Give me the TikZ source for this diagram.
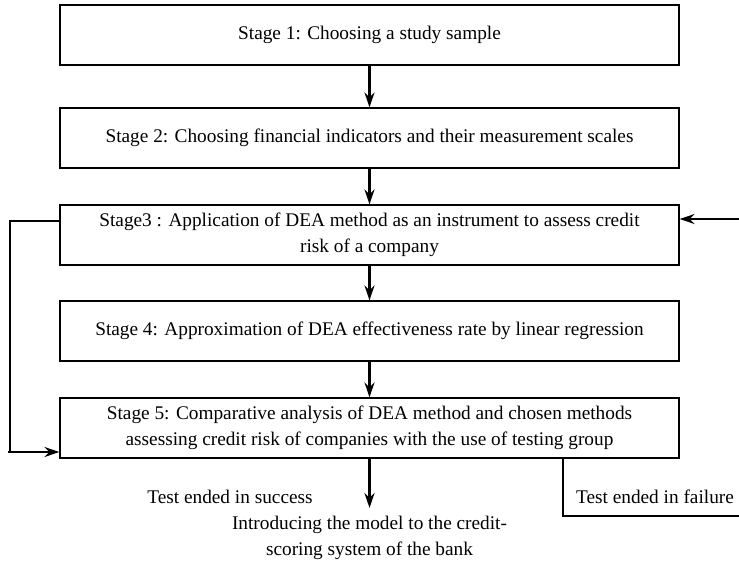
\documentclass[tikz,border=0pt]{standalone}
\usepackage{fontspec}
\setmainfont{Liberation Serif}
\usetikzlibrary{arrows.meta}
\begin{document}
\begin{tikzpicture}[x=1pt,y=-1pt,
  stagebox/.style={draw, line width=1.2pt, minimum width=619pt, minimum height=60pt, align=center, font=\fontsize{19.3}{26.5}\selectfont, inner sep=0pt},
  lbl/.style={font=\fontsize{19.3}{25.5}\selectfont, align=center, inner sep=0pt},
  arr/.style={line width=2.4pt, -{Stealth[length=15pt,width=10pt,inset=5pt]}},
  ln/.style={line width=1.2pt}]
\useasboundingbox (0,0) rectangle (739,562);
\node[stagebox] (s1) at (369.5,35) {Stage 1: Choosing a study sample};
\node[stagebox] (s2) at (369.5,138) {Stage 2: Choosing financial indicators and their measurement scales};
\node[stagebox] (s3) at (369.5,235) {Stage3 : Application of DEA method as an instrument to assess credit\\risk of a company};
\node[stagebox] (s4) at (369.5,331) {Stage 4: Approximation of DEA effectiveness rate by linear regression};
\node[stagebox] (s5) at (369.5,428) {Stage 5: Comparative analysis of DEA method and chosen methods\\assessing credit risk of companies with the use of testing group};
\draw[arr] (s1) -- (s2);
\draw[arr] (s2) -- (s3);
\draw[arr] (s3) -- (s4);
\draw[arr] (s4) -- (s5);
\coordinate (lt) at (10,221);
\coordinate (lb) at (10,452);
\draw[ln] (s3.west |- lt) -- (lt) -- (lb);
\coordinate (lbs) at (8,452);
\draw[arr] (lbs) -- (s5.west |- lbs);
\coordinate (rin) at (739,219);
\draw[arr] (rin) -- (s3.east |- rin);
\coordinate (cend) at (369.5,508);
\draw[arr] (s5.south) -- (cend);
\coordinate (fcorner) at (563,516);
\coordinate (fend) at (739,516);
\draw[ln] (s5.south -| fcorner) -- (fcorner) -- (fend);
\node[lbl] (succ) at (230,497) {Test ended in success};
\node[lbl] (fail) at (655,497) {Test ended in failure};
\node[lbl] (intro) at (369.5,538) {Introducing the model to the credit-\\scoring system of the bank};
\end{tikzpicture}
\end{document}
